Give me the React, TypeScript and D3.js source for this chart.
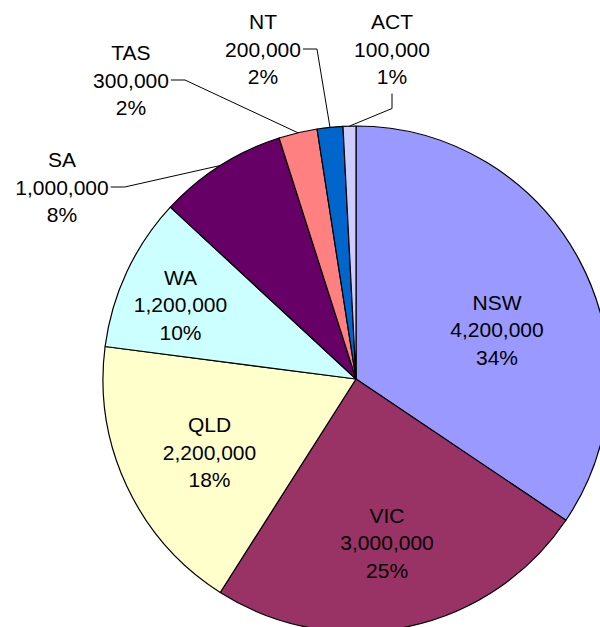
import { useEffect, useRef } from 'react'
import * as d3 from 'd3'

const states = ['NSW', 'VIC', 'QLD', 'WA', 'SA', 'TAS', 'NT', 'ACT']
const population = [4200000, 3000000, 2200000, 1200000, 1000000, 300000, 200000, 100000]
const colours = ['#9999FF', '#993366', '#FFFFCC', '#CCFFFF', '#660066', '#FF8080', '#0066CC', '#CCCCFF']

// label layout: inside labels get an offset from the arc centroid,
// outside labels get a text position and a leader style
const inside: Record<string, [number, number]> = {
  NSW: [7, 22],
  VIC: [0, 15],
  QLD: [-9, 9],
  WA: [-38, -10],
}
const outside: Record<string, { x: number; y: number; lead: 'side' | 'below' }> = {
  SA: { x: 62, y: 187, lead: 'side' },
  TAS: { x: 131, y: 80, lead: 'side' },
  NT: { x: 263, y: 49, lead: 'side' },
  ACT: { x: 392, y: 49, lead: 'below' },
}

export default function App() {
  const svgRef = useRef<SVGSVGElement>(null)
  const width = 600
  const height = 627

  useEffect(() => {
    const svg = d3.select(svgRef.current)
    svg.selectAll('*').remove()

    const cx = 356
    const cy = 379
    const r = 253
    const total = d3.sum(population)
    const fmt = d3.format(',')
    const lineH = 27.5

    const rows = states.map((s, i) => ({ name: s, value: population[i], colour: colours[i] }))
    const pie = d3.pie<any>().value(d => d.value).sort(null)
    const arcs = pie(rows)
    const arc = d3.arc<any>().innerRadius(0).outerRadius(r)
    const labelArc = d3.arc<any>().innerRadius(r * 0.6).outerRadius(r * 0.6)
    const edgeArc = d3.arc<any>().innerRadius(r).outerRadius(r)

    const g = svg.append('g').attr('transform', `translate(${cx},${cy})`)

    g.selectAll('path.slice')
      .data(arcs)
      .enter()
      .append('path')
      .attr('class', 'slice')
      .attr('d', arc)
      .attr('fill', d => d.data.colour)
      .attr('stroke', '#000')
      .attr('stroke-width', 1.2)
      .attr('stroke-linejoin', 'round')

    const textBlock = (x: number, y: number, d: any) => {
      const lines = [d.data.name, fmt(d.data.value), Math.round((d.data.value / total) * 100) + '%']
      const t = svg.append('text')
        .attr('text-anchor', 'middle')
        .attr('font-family', '"Liberation Sans", Arial, sans-serif')
        .attr('font-size', 21)
        .attr('fill', '#000')
      lines.forEach((l, i) => {
        t.append('tspan')
          .attr('x', x)
          .attr('y', y + (i - 1) * lineH)
          .attr('dy', '0.36em')
          .text(l)
      })
      return t
    }

    arcs.forEach(d => {
      const name = d.data.name
      if (inside[name]) {
        const [px, py] = labelArc.centroid(d)
        const [ox, oy] = inside[name]
        textBlock(cx + px + ox, cy + py + oy, d)
      } else if (outside[name]) {
        const o = outside[name]
        const t = textBlock(o.x, o.y, d)
        const [ex, ey] = edgeArc.centroid(d)
        const end: [number, number] = [cx + ex, cy + ey]
        let pts: [number, number][]
        if (o.lead === 'side') {
          const bb = (t.node() as SVGTextElement).getBBox()
          const sx = bb.x + bb.width + 2
          pts = [[sx, o.y], [sx + 14, o.y], end]
        } else {
          const sy = o.y + lineH + 17
          pts = [[o.x, sy], [o.x, sy + 15], end]
        }
        svg.append('path')
          .attr('d', d3.line()(pts))
          .attr('fill', 'none')
          .attr('stroke', '#000')
          .attr('stroke-width', 1)
      }
    })
  }, [])

  return (
    <svg
      ref={svgRef}
      width={width}
      height={height}
      style={{ position: 'absolute', left: 0, top: 0, background: '#fff' }}
    />
  )
}
